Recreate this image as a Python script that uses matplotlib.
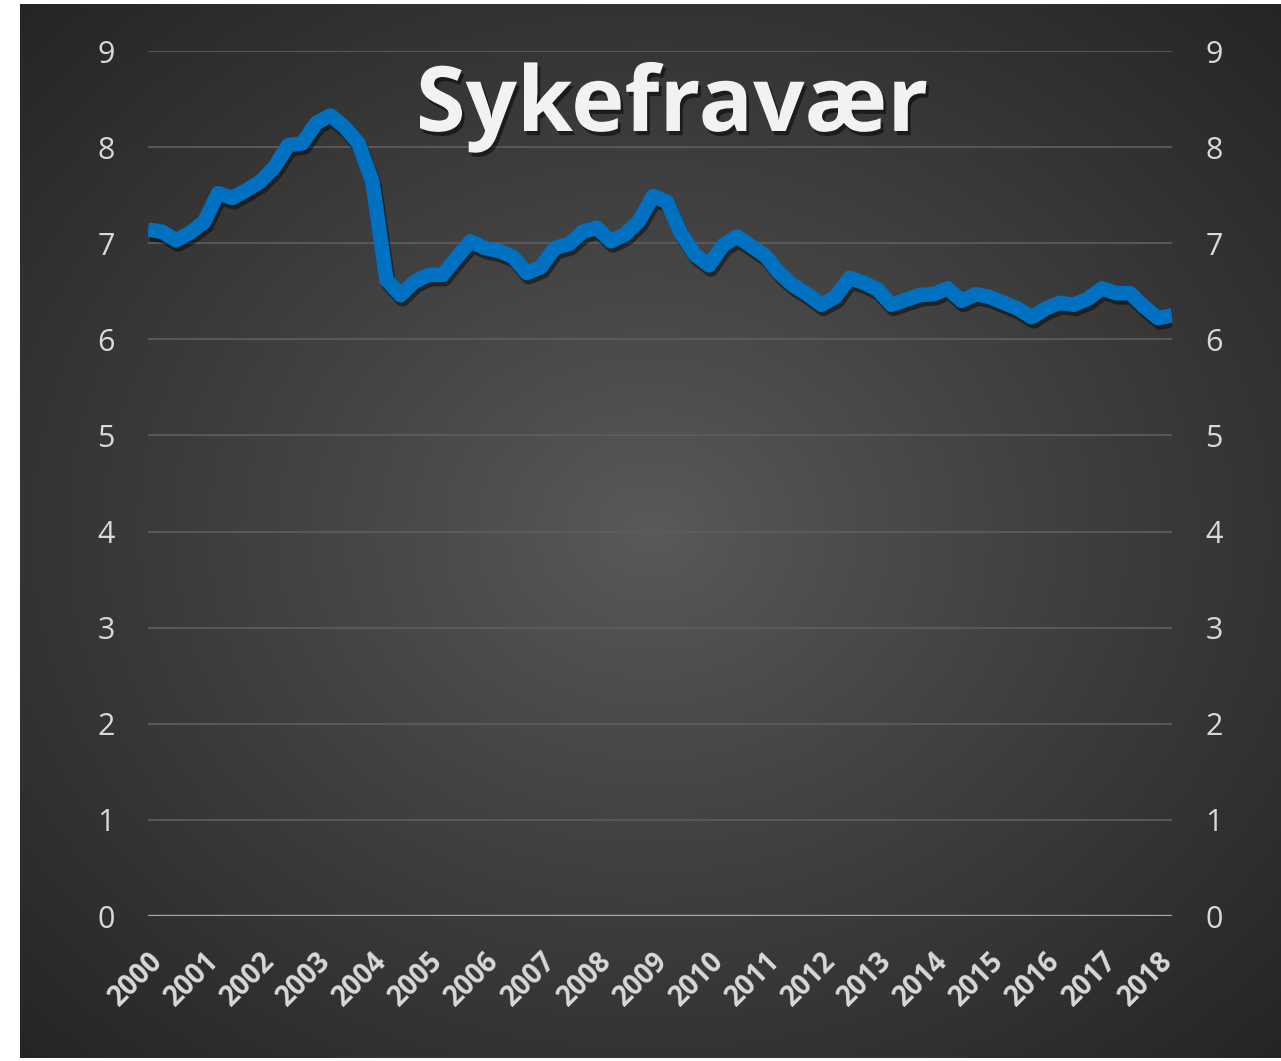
import numpy as np
import matplotlib.pyplot as plt
import matplotlib.patheffects as pe

# Sykefravær, kvartalstall 2000K1 - 2018K2
years = [str(y) for y in range(2000, 2019)]
sykefravaer = [
    7.14, 7.12, 7.03, 7.11, 7.22, 7.52, 7.47, 7.55, 7.64, 7.79,
    8.02, 8.04, 8.25, 8.33, 8.21, 8.04, 7.64, 6.62, 6.46, 6.60,
    6.67, 6.67, 6.85, 7.02, 6.95, 6.92, 6.86, 6.69, 6.75, 6.95,
    6.99, 7.12, 7.16, 7.02, 7.09, 7.23, 7.49, 7.43, 7.10, 6.88,
    6.77, 6.98, 7.07, 6.97, 6.87, 6.69, 6.56, 6.47, 6.36, 6.44,
    6.64, 6.59, 6.52, 6.36, 6.41, 6.46, 6.47, 6.53, 6.40, 6.47,
    6.44, 6.38, 6.32, 6.23, 6.32, 6.38, 6.36, 6.42, 6.53, 6.48,
    6.48, 6.34, 6.22, 6.25,
]
y_ticks = list(range(0, 10))

plt.rcParams['font.family'] = ['Open Sans', 'DejaVu Sans']

W, H = 1281, 1061
fig = plt.figure(figsize=(W / 100, H / 100), dpi=100, facecolor='white')

# mørk bakgrunn med radial gradient
bg = fig.add_axes([20 / W, 1 - 1058 / H, 1261 / W, 1054 / H])
gx, gy = np.meshgrid(np.linspace(-1, 1, 400), np.linspace(-1, 1, 400))
r = np.clip(np.sqrt(gx ** 2 + gy ** 2) / np.sqrt(2), 0, 1)
inner, outer = 0x5a / 255, 0x25 / 255
grad = inner + (outer - inner) * r ** 0.9
bg.imshow(np.dstack([grad, grad, grad]), aspect='auto', extent=(0, 1, 0, 1),
          interpolation='bicubic')
bg.set_axis_off()

ax = fig.add_axes([148 / W, 1 - 916 / H, 1024 / W, 865 / H])
ax.set_facecolor('none')
x = np.arange(len(sykefravaer))
ax.set_xlim(0, len(sykefravaer) - 1)
ax.set_ylim(0, 9)

for v in y_ticks[1:]:
    ax.axhline(v, color='#5c5c5c', lw=1.3, zorder=1)
ax.axhline(0, color='#a6a6a6', lw=2.4, zorder=2)

ax.plot(x, sykefravaer, color='#0070c0', lw=10.5, solid_joinstyle='round',
        solid_capstyle='butt', zorder=3,
        path_effects=[pe.SimpleLineShadow(offset=(1.5, -3), shadow_color='black', alpha=0.45),
                      pe.Normal()])

for s in ax.spines.values():
    s.set_visible(False)

ax.set_yticks(y_ticks)
ax.tick_params(axis='y', length=0, pad=24, labelsize=22, labelcolor='#d9d9d9',
               labelleft=True, labelright=True)

ax.set_xticks(x[::4][:len(years)])
ax.set_xticklabels(years, rotation=45, ha='right', va='top',
                   rotation_mode='anchor', fontweight='bold')
ax.tick_params(axis='x', length=0, pad=22, labelsize=20, labelcolor='#d9d9d9')

fig.text(672 / W, 1 - 108 / H, 'Sykefravær', ha='center', va='center',
         fontsize=65, fontweight='bold', color='#f2f2f2', zorder=10,
         path_effects=[pe.withSimplePatchShadow(offset=(2, -3), shadow_rgbFace='black', alpha=0.5)])

fig.savefig('out.png', dpi=100, facecolor='white')
